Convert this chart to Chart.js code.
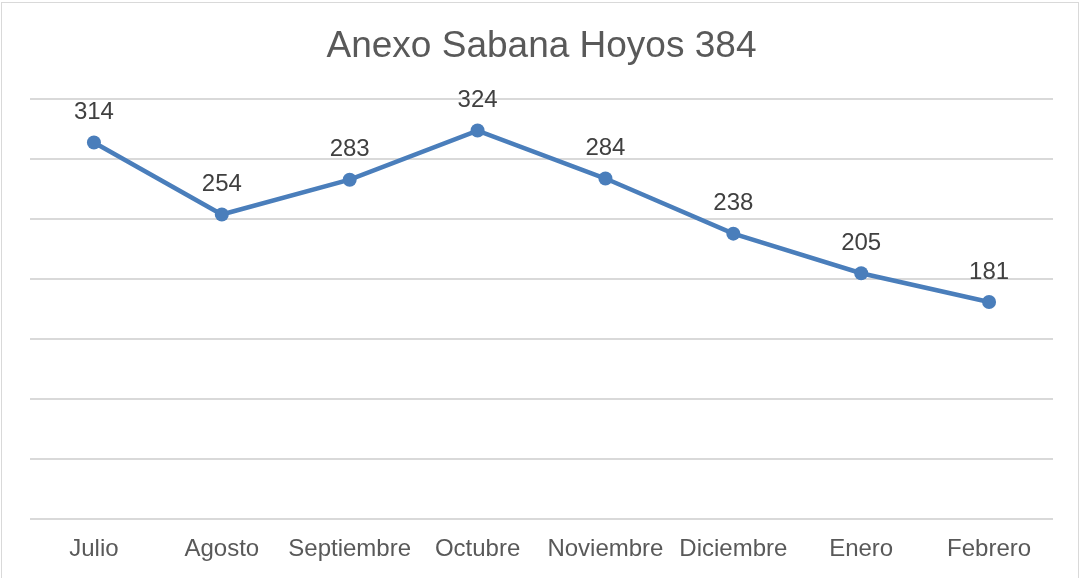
<!DOCTYPE html>
<html>
<head>
<meta charset="utf-8">
<script src="https://cdn.jsdelivr.net/npm/chart.js@4/dist/chart.umd.min.js"></script>
<style>
  html, body { margin: 0; padding: 0; background: #fff; }
  .frame {
    position: absolute; left: 1px; top: 2px; width: 1078px; height: 578px;
    border: 1px solid #d9d9d9; box-sizing: border-box;
  }
  .wrap { position: absolute; left: 0; top: 0; width: 1081px; height: 578px; }
</style>
</head>
<body>
<div class="frame"></div>
<div class="wrap"><canvas id="chart"></canvas></div>
<script>
const months = ["Julio", "Agosto", "Septiembre", "Octubre", "Noviembre", "Diciembre", "Enero", "Febrero"];
const values = [314, 254, 283, 324, 284, 238, 205, 181];
const yTicks = [0, 50, 100, 150, 200, 250, 300, 350];

const FONT = "'Liberation Sans', Arial, sans-serif";

// Value labels above each point
const pointLabels = {
  id: "pointLabels",
  afterDatasetsDraw(chart) {
    const ctx = chart.ctx;
    const meta = chart.getDatasetMeta(0);
    ctx.save();
    ctx.font = "24px " + FONT;
    ctx.fillStyle = "#404040";
    ctx.textAlign = "center";
    ctx.textBaseline = "middle";
    meta.data.forEach((pt, i) => {
      ctx.fillText(values[i], pt.x, pt.y - 30);
    });
    ctx.restore();
  },
};

new Chart(document.getElementById("chart").getContext("2d"), {
  type: "line",
  data: {
    labels: months,
    datasets: [
      {
        data: values,
        borderColor: "#4a7ebb",
        backgroundColor: "#4a7ebb",
        borderWidth: 4.5,
        pointRadius: 7,
        pointBackgroundColor: "#4a7ebb",
        pointBorderWidth: 0,
        tension: 0,
      },
    ],
  },
  options: {
    responsive: true,
    maintainAspectRatio: false,
    animation: false,
    layout: { padding: { left: 30, right: 28, top: 0, bottom: 0 } },
    plugins: {
      legend: { display: false },
      tooltip: { enabled: false },
      title: {
        display: true,
        text: "Anexo Sabana Hoyos 384",
        color: "#595959",
        font: { family: FONT, size: 37, weight: "normal" },
        padding: { top: 25, bottom: 30 },
      },
    },
    scales: {
      x: {
        offset: true,
        grid: { display: false, drawTicks: false },
        border: { display: false },
        afterFit: (s) => { s.height = 59; },
        ticks: {
          color: "#595959",
          font: { family: FONT, size: 24 },
          padding: 16,
          maxRotation: 0,
          autoSkip: false,
        },
      },
      y: {
        min: yTicks[0],
        max: yTicks[yTicks.length - 1],
        afterBuildTicks: (s) => { s.ticks = yTicks.map((v) => ({ value: v })); },
        afterFit: (s) => { s.width = 0; },
        grid: { color: "#d9d9d9", lineWidth: 2, drawTicks: false },
        border: { display: false },
        ticks: { display: false },
      },
    },
  },
  plugins: [pointLabels],
});
</script>
</body>
</html>
